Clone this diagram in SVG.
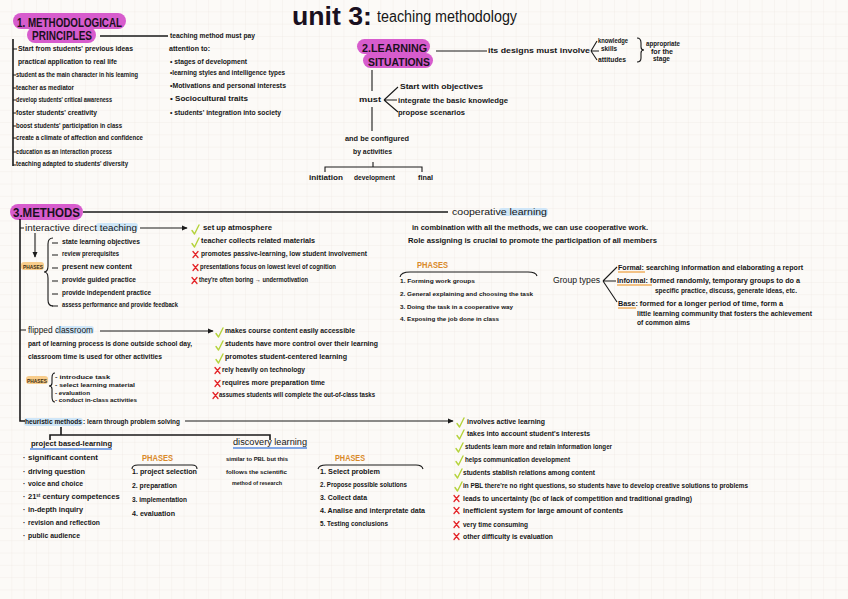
<svg xmlns="http://www.w3.org/2000/svg" width="848" height="599" viewBox="0 0 848 599">
<style>
.t{font-family:"Liberation Sans",Arial,sans-serif;font-size:7px;font-weight:bold;fill:#161616}
.s{font-size:6px}
.ph{font-family:"Liberation Sans",Arial,sans-serif;font-size:9px;font-weight:bold;fill:#d98a2a}
.phs{font-family:"Liberation Sans",Arial,sans-serif;font-size:6px;font-weight:bold;fill:#3a2a10}
.hd{font-family:"Liberation Sans",Arial,sans-serif;font-weight:bold;fill:#1a1020}
.ln{stroke:#1a1a1a;stroke-width:1.1;fill:none}
.lt{stroke:#1a1a1a;stroke-width:1.6;fill:none}
.pill{fill:#d75ccd}
.hb{fill:#cfe6f8}
.ho{fill:#f8cd8c}
.ub{stroke:#5a8de0;stroke-width:1.6;fill:none}
.uo{stroke:#f0b060;stroke-width:1.4;fill:none}
.ok{stroke:#b5d33c;stroke-width:1.4;fill:none;stroke-linecap:round;stroke-linejoin:round}
.no{stroke:#e4262a;stroke-width:1.3;fill:none;stroke-linecap:round}
</style>
<defs>
<pattern id="grid" width="12.3" height="12.3" patternUnits="userSpaceOnUse"><path d="M12.3 0V12.3M0 12.3H12.3" stroke="#ebe5e0" stroke-width="0.6" fill="none"/></pattern>
<marker id="ah" viewBox="0 0 8 8" refX="7" refY="4" markerWidth="6" markerHeight="6" orient="auto" markerUnits="userSpaceOnUse"><path d="M0,0.5L8,4L0,7.5z" fill="#1a1a1a"/></marker>
<path id="ck" d="M0,1.5 L2.5,5 L7,-4" class="ok"/>
<path id="cx" d="M0,-3.5 L5,2.5 M5,-3.5 L0,2.5" class="no"/>
</defs>
<rect width="848" height="599" fill="#fcfaf7"/>
<rect width="848" height="599" fill="url(#grid)"/>

<g id="title">
<text class="hd" x="292" y="25" font-size="25" textLength="80" lengthAdjust="spacingAndGlyphs">unit 3:</text>
<text class="t" x="377" y="22" style="font-size:16px;font-weight:normal" textLength="140" lengthAdjust="spacingAndGlyphs">teaching methodology</text>
</g>

<g id="methodological-principles">
<rect class="pill" x="13" y="13" width="113" height="16" rx="8"/>
<rect class="pill" x="27" y="27" width="69" height="16" rx="8"/>
<text class="hd" x="17" y="27" font-size="12" textLength="105" lengthAdjust="spacingAndGlyphs">1. METHODOLOGICAL</text>
<text class="hd" x="32" y="40" font-size="12" textLength="60" lengthAdjust="spacingAndGlyphs">PRINCIPLES</text>
</g>

<g id="principles-list">
<text class="t" x="18" y="51" textLength="115" lengthAdjust="spacingAndGlyphs">Start from students' previous ideas</text>
<text class="t" x="18" y="64" textLength="99" lengthAdjust="spacingAndGlyphs">practical application to real life</text>
<text class="t" x="16" y="77" textLength="122" lengthAdjust="spacingAndGlyphs">student as the main character in his learning</text>
<text class="t" x="16" y="90" textLength="58" lengthAdjust="spacingAndGlyphs">teacher as mediator</text>
<text class="t" x="16" y="102" textLength="96" lengthAdjust="spacingAndGlyphs">develop students' critical awareness</text>
<text class="t" x="16" y="115" textLength="81" lengthAdjust="spacingAndGlyphs">foster students' creativity</text>
<text class="t" x="16" y="128" textLength="106" lengthAdjust="spacingAndGlyphs">boost students' participation in class</text>
<text class="t" x="16" y="140" textLength="127" lengthAdjust="spacingAndGlyphs">create a climate of affection and confidence</text>
<text class="t" x="16" y="154" textLength="96" lengthAdjust="spacingAndGlyphs">education as an interaction process</text>
<text class="t" x="16" y="166" textLength="112" lengthAdjust="spacingAndGlyphs">teaching adapted to students' diversity</text>
</g>

<g id="attention-list">
<text class="t" x="170" y="38" textLength="85" lengthAdjust="spacingAndGlyphs">teaching method must pay</text>
<text class="t" x="169" y="51" textLength="41" lengthAdjust="spacingAndGlyphs">attention to:</text>
<text class="t" x="170" y="64" textLength="77" lengthAdjust="spacingAndGlyphs">• stages of development</text>
<text class="t" x="170" y="75" textLength="115" lengthAdjust="spacingAndGlyphs">•learning styles and intelligence types</text>
<text class="t" x="170" y="88" textLength="116" lengthAdjust="spacingAndGlyphs">•Motivations and personal interests</text>
<text class="t" x="170" y="101" textLength="78" lengthAdjust="spacingAndGlyphs">• Sociocultural traits</text>
<text class="t" x="170" y="115" textLength="111" lengthAdjust="spacingAndGlyphs">• students' integration into society</text>
</g>

<g id="learning-situations">
<rect class="pill" x="357" y="39" width="73" height="15" rx="7.5"/>
<rect class="pill" x="363" y="53" width="70" height="15" rx="7.5"/>
<text class="hd" x="362" y="52" font-size="11" textLength="65" lengthAdjust="spacingAndGlyphs">2.LEARNING</text>
<text class="hd" x="368" y="66" font-size="11" textLength="62" lengthAdjust="spacingAndGlyphs">SITUATIONS</text>
</g>

<g id="designs">
<text class="t" x="488" y="53" style="font-size:7.5px" textLength="102" lengthAdjust="spacingAndGlyphs">its designs must involve</text>
<text class="t" x="598" y="43" textLength="30" lengthAdjust="spacingAndGlyphs">knowledge</text>
<text class="t" x="601" y="51" textLength="16" lengthAdjust="spacingAndGlyphs">skills</text>
<text class="t" x="598" y="62" textLength="28" lengthAdjust="spacingAndGlyphs">attitudes</text>
<text class="t" x="646" y="46" textLength="34" lengthAdjust="spacingAndGlyphs">appropriate</text>
<text class="t" x="651" y="54" textLength="22" lengthAdjust="spacingAndGlyphs">for the</text>
<text class="t" x="653" y="61" textLength="17" lengthAdjust="spacingAndGlyphs">stage</text>
</g>

<g id="must">
<text class="t" x="359" y="102" style="font-size:8px" textLength="22" lengthAdjust="spacingAndGlyphs">must</text>
<text class="t" x="400" y="89" textLength="83" lengthAdjust="spacingAndGlyphs">Start with objectives</text>
<text class="t" x="398" y="103" textLength="110" lengthAdjust="spacingAndGlyphs">integrate the basic knowledge</text>
<text class="t" x="398" y="115" textLength="67" lengthAdjust="spacingAndGlyphs">propose scenarios</text>
</g>

<g id="activities">
<text class="t" x="345" y="141" textLength="64" lengthAdjust="spacingAndGlyphs">and be configured</text>
<text class="t" x="353" y="154" textLength="39" lengthAdjust="spacingAndGlyphs">by activities</text>
<text class="t" x="309" y="180" textLength="34" lengthAdjust="spacingAndGlyphs">initiation</text>
<text class="t" x="354" y="180" textLength="41" lengthAdjust="spacingAndGlyphs">development</text>
<text class="t" x="418" y="180" textLength="15" lengthAdjust="spacingAndGlyphs">final</text>
</g>

<g id="methods">
<rect class="pill" x="10" y="204" width="73" height="16" rx="8"/>
<text class="hd" x="13" y="217" font-size="13" textLength="67" lengthAdjust="spacingAndGlyphs">3.METHODS</text>
</g>

<g id="interactive-direct-teaching">
<rect class="hb" x="96" y="223" width="42" height="8" rx="3"/>
<text class="t" x="25" y="231" style="font-size:9px;font-weight:normal" textLength="112" lengthAdjust="spacingAndGlyphs">interactive direct teaching</text>
<rect class="ho" x="21" y="262" width="23" height="8" rx="3"/>
<text class="phs" x="23" y="269" textLength="20" lengthAdjust="spacingAndGlyphs">PHASES</text>
<path class="ln" d="M52,243H58M52,255H58M52,268H58M52,281H58M52,294H58M52,306H58"/>
<text class="t" x="62" y="244" textLength="78" lengthAdjust="spacingAndGlyphs">state learning objectives</text>
<text class="t" x="62" y="256" textLength="57" lengthAdjust="spacingAndGlyphs">review prerequisites</text>
<text class="t" x="62" y="269" textLength="70" lengthAdjust="spacingAndGlyphs">present new content</text>
<text class="t" x="62" y="282" textLength="74" lengthAdjust="spacingAndGlyphs">provide guided practice</text>
<text class="t" x="62" y="295" textLength="89" lengthAdjust="spacingAndGlyphs">provide independent practice</text>
<text class="t" x="62" y="307" textLength="116" lengthAdjust="spacingAndGlyphs">assess performance and provide feedback</text>
</g>

<g id="direct-teaching-eval">
<use href="#ck" x="192" y="229"/>
<text class="t" x="203" y="230" style="font-size:7.5px" textLength="69" lengthAdjust="spacingAndGlyphs">set up atmosphere</text>
<use href="#ck" x="192" y="242"/>
<text class="t" x="201" y="243" textLength="114" lengthAdjust="spacingAndGlyphs">teacher collects related materials</text>
<use href="#cx" x="193" y="255"/>
<text class="t" x="201" y="256" style="font-size:7.5px" textLength="166" lengthAdjust="spacingAndGlyphs">promotes passive-learning, low student involvement</text>
<use href="#cx" x="193" y="268"/>
<text class="t" x="200" y="269" textLength="136" lengthAdjust="spacingAndGlyphs">presentations focus on lowest level of cognition</text>
<use href="#cx" x="192" y="281"/>
<text class="t" x="199" y="282" textLength="109" lengthAdjust="spacingAndGlyphs">they're often boring → undermotivation</text>
</g>

<g id="cooperative-learning">
<rect class="hb" x="499" y="208" width="49" height="8" rx="3"/>
<text class="t" x="452" y="215" style="font-size:9px;font-weight:normal" textLength="95" lengthAdjust="spacingAndGlyphs">cooperative learning</text>
<text class="t" x="412" y="230" textLength="236" lengthAdjust="spacingAndGlyphs">in combination with all the methods, we can use cooperative work.</text>
<text class="t" x="408" y="243" textLength="249" lengthAdjust="spacingAndGlyphs">Role assigning is crucial to promote the participation of all members</text>
<text class="ph" x="417" y="268" textLength="31" lengthAdjust="spacingAndGlyphs">PHASES</text>
<path class="ln" d="M400,277 Q401,272 410,272 L528,272 Q536,272 537,276"/>
<text class="t s" x="400" y="283" textLength="75" lengthAdjust="spacingAndGlyphs">1. Forming work groups</text>
<text class="t s" x="400" y="296" textLength="133" lengthAdjust="spacingAndGlyphs">2. General explaining and choosing the task</text>
<text class="t s" x="400" y="309" textLength="113" lengthAdjust="spacingAndGlyphs">3. Doing the task in a cooperative way</text>
<text class="t s" x="400" y="321" textLength="99" lengthAdjust="spacingAndGlyphs">4. Exposing the job done in class</text>
</g>

<g id="group-types">
<text class="t" x="553" y="283" style="font-size:8.5px;font-weight:normal" textLength="47" lengthAdjust="spacingAndGlyphs">Group types</text>
<path class="uo" d="M618,272H645M617,285H652M618,308H636"/>
<text class="t" x="618" y="270" textLength="185" lengthAdjust="spacingAndGlyphs">Formal: searching information and elaborating a report</text>
<text class="t" x="617" y="283" textLength="183" lengthAdjust="spacingAndGlyphs">Informal: formed randomly, temporary groups to do a</text>
<text class="t" x="655" y="293" textLength="142" lengthAdjust="spacingAndGlyphs">specific practice, discuss, generate ideas, etc.</text>
<text class="t" x="618" y="306" textLength="165" lengthAdjust="spacingAndGlyphs">Base: formed for a longer period of time, form a</text>
<text class="t" x="637" y="316" textLength="175" lengthAdjust="spacingAndGlyphs">little learning community that fosters the achievement</text>
<text class="t" x="637" y="325" textLength="53" lengthAdjust="spacingAndGlyphs">of common aims</text>
</g>

<g id="flipped-classroom">
<rect class="hb" x="56" y="326" width="38" height="8" rx="3"/>
<text class="t" x="28" y="333" style="font-size:8.5px;font-weight:normal" textLength="65" lengthAdjust="spacingAndGlyphs">flipped classroom</text>
<text class="t" x="28" y="346" textLength="164" lengthAdjust="spacingAndGlyphs">part of learning process is done outside school day,</text>
<text class="t" x="28" y="359" textLength="134" lengthAdjust="spacingAndGlyphs">classroom time is used for other activities</text>
<rect class="ho" x="26" y="376" width="22" height="8" rx="3"/>
<text class="phs" x="27" y="383" textLength="20" lengthAdjust="spacingAndGlyphs">PHASES</text>
<text class="t s" x="55" y="379" textLength="55" lengthAdjust="spacingAndGlyphs">- introduce task</text>
<text class="t s" x="55" y="387" textLength="80" lengthAdjust="spacingAndGlyphs">- select learning material</text>
<text class="t s" x="55" y="395" textLength="35" lengthAdjust="spacingAndGlyphs">- evaluation</text>
<text class="t s" x="55" y="402" textLength="82" lengthAdjust="spacingAndGlyphs">- conduct in-class activities</text>
</g>

<g id="flipped-eval">
<use href="#ck" x="216" y="332"/>
<text class="t" x="225" y="333" textLength="130" lengthAdjust="spacingAndGlyphs">makes course content easily accessible</text>
<use href="#ck" x="216" y="345"/>
<text class="t" x="225" y="346" textLength="153" lengthAdjust="spacingAndGlyphs">students have more control over their learning</text>
<use href="#ck" x="216" y="358"/>
<text class="t" x="225" y="359" textLength="122" lengthAdjust="spacingAndGlyphs">promotes student-centered learning</text>
<use href="#cx" x="215" y="371"/>
<text class="t" x="222" y="372" textLength="83" lengthAdjust="spacingAndGlyphs">rely heavily on technology</text>
<use href="#cx" x="215" y="384"/>
<text class="t" x="222" y="385" textLength="103" lengthAdjust="spacingAndGlyphs">requires more preparation time</text>
<use href="#cx" x="213" y="396"/>
<text class="t" x="219" y="397" textLength="156" lengthAdjust="spacingAndGlyphs">assumes students will complete the out-of-class tasks</text>
</g>

<g id="heuristic-methods">
<rect class="hb" x="24" y="418" width="59" height="8" rx="3"/>
<text class="t" x="25" y="424" textLength="57" lengthAdjust="spacingAndGlyphs">heuristic methods</text>
<text class="t" x="83" y="424" textLength="97" lengthAdjust="spacingAndGlyphs">: learn through problem solving</text>
</g>

<g id="project-based-learning">
<text class="t" x="31" y="446" style="font-size:8px" textLength="81" lengthAdjust="spacingAndGlyphs">project based-learning</text>
<path class="ub" d="M30,449H112"/>
<text class="t" x="23" y="460">·</text><text class="t" x="28" y="460" style="font-size:7.5px" textLength="70" lengthAdjust="spacingAndGlyphs">significant content</text>
<text class="t" x="23" y="474">·</text><text class="t" x="28" y="474" style="font-size:7.5px" textLength="57" lengthAdjust="spacingAndGlyphs">driving question</text>
<text class="t" x="23" y="486">·</text><text class="t" x="28" y="486" style="font-size:7.5px" textLength="55" lengthAdjust="spacingAndGlyphs">voice and choice</text>
<text class="t" x="23" y="499">·</text><text class="t" x="28" y="499" style="font-size:7.5px">21<tspan font-size="4.5" dy="-2.5">st</tspan><tspan dy="2.5"> century competences</tspan></text>
<text class="t" x="23" y="512">·</text><text class="t" x="28" y="512" style="font-size:7.5px" textLength="55" lengthAdjust="spacingAndGlyphs">in-depth inquiry</text>
<text class="t" x="23" y="525">·</text><text class="t" x="28" y="525" style="font-size:7.5px" textLength="72" lengthAdjust="spacingAndGlyphs">revision and reflection</text>
<text class="t" x="23" y="538">·</text><text class="t" x="28" y="538" style="font-size:7.5px" textLength="52" lengthAdjust="spacingAndGlyphs">public audience</text>
</g>

<g id="pbl-phases">
<text class="ph" x="142" y="461" textLength="31" lengthAdjust="spacingAndGlyphs">PHASES</text>
<path class="ln" d="M132,469 Q132,465 138,465 L192,465 Q197,465 197,469"/>
<text class="t" x="132" y="474" textLength="65" lengthAdjust="spacingAndGlyphs">1. project selection</text>
<text class="t" x="132" y="488" textLength="45" lengthAdjust="spacingAndGlyphs">2. preparation</text>
<text class="t" x="132" y="502" textLength="55" lengthAdjust="spacingAndGlyphs">3. implementation</text>
<text class="t" x="132" y="516" textLength="43" lengthAdjust="spacingAndGlyphs">4. evaluation</text>
</g>

<g id="discovery-learning">
<text class="t" x="233" y="445" style="font-size:8.5px;font-weight:normal" textLength="74" lengthAdjust="spacingAndGlyphs">discovery learning</text>
<path class="ub" d="M233,448H307"/>
<text class="t s" x="226" y="461" textLength="62" lengthAdjust="spacingAndGlyphs">similar to PBL but this</text>
<text class="t s" x="226" y="474" textLength="61" lengthAdjust="spacingAndGlyphs">follows the scientific</text>
<text class="t s" x="232" y="485" textLength="50" lengthAdjust="spacingAndGlyphs">method of research</text>
</g>

<g id="discovery-phases">
<text class="ph" x="335" y="461" textLength="30" lengthAdjust="spacingAndGlyphs">PHASES</text>
<path class="ln" d="M318,469 Q319,465 326,465 L416,465 Q422,465 423,469"/>
<text class="t" x="320" y="474" textLength="60" lengthAdjust="spacingAndGlyphs">1. Select problem</text>
<text class="t" x="320" y="487" textLength="87" lengthAdjust="spacingAndGlyphs">2. Propose possible solutions</text>
<text class="t" x="320" y="500" textLength="47" lengthAdjust="spacingAndGlyphs">3. Collect data</text>
<text class="t" x="320" y="513" textLength="105" lengthAdjust="spacingAndGlyphs">4. Analise and interpretate data</text>
<text class="t" x="320" y="526" textLength="68" lengthAdjust="spacingAndGlyphs">5. Testing conclusions</text>
</g>

<g id="heuristic-eval">
<use href="#ck" x="457" y="422"/>
<text class="t" x="467" y="424" textLength="78" lengthAdjust="spacingAndGlyphs">involves active learning</text>
<use href="#ck" x="457" y="434"/>
<text class="t" x="467" y="436" textLength="123" lengthAdjust="spacingAndGlyphs">takes into account student's interests</text>
<use href="#ck" x="456" y="447"/>
<text class="t" x="465" y="449" textLength="147" lengthAdjust="spacingAndGlyphs">students learn more and retain information longer</text>
<use href="#ck" x="456" y="460"/>
<text class="t" x="465" y="462" textLength="105" lengthAdjust="spacingAndGlyphs">helps communication development</text>
<use href="#ck" x="455" y="473"/>
<text class="t" x="463" y="475" textLength="132" lengthAdjust="spacingAndGlyphs">students stablish relations among content</text>
<use href="#ck" x="455" y="486"/>
<text class="t" x="463" y="488" textLength="285" lengthAdjust="spacingAndGlyphs">in PBL there're no right questions, so students have to develop creative solutions to problems</text>
<use href="#cx" x="454" y="499"/>
<text class="t" x="463" y="501" textLength="229" lengthAdjust="spacingAndGlyphs">leads to uncertainty (bc of lack of competition and traditional grading)</text>
<use href="#cx" x="454" y="511"/>
<text class="t" x="463" y="513" textLength="160" lengthAdjust="spacingAndGlyphs">inefficient system for large amount of contents</text>
<use href="#cx" x="454" y="525"/>
<text class="t" x="463" y="527" textLength="65" lengthAdjust="spacingAndGlyphs">very time consuming</text>
<use href="#cx" x="454" y="537"/>
<text class="t" x="463" y="539" textLength="90" lengthAdjust="spacingAndGlyphs">other difficulty is evaluation</text>
</g>

<g id="connectors">
<path class="lt" d="M100,36H168"/>
<path class="lt" d="M13,39V166"/>
<path class="ln" d="M13,49H17M13,75H16M13,88H16M13,100H16M13,113H16M13,126H16M13,138H16M13,152H16M13,165H16"/>
<path class="ln" d="M436,51H487"/>
<path class="ln" d="M591,51L597,41M591,51H599M591,51L597,60"/>
<path class="ln" d="M637,38Q641,38 641,43L641,47Q641,50 644,50Q641,50 641,53L641,58Q641,62 637,62"/>
<path class="ln" d="M372,70V91M384,100L398,87M384,100H397M384,100L398,112M372,107V131"/>
<path class="ln" d="M325,172V167H422V172M373,162V167"/>
<path class="lt" d="M83,212H448"/>
<path class="lt" d="M20,219V421H25"/>
<path class="ln" d="M20,228H24M20,330H26"/>
<path class="ln" d="M140,228H187" marker-end="url(#ah)"/>
<path class="ln" d="M35,233V257" marker-end="url(#ah)"/>
<path class="ln" d="M53,238Q48,238 48,244L48,266Q48,272 44,272Q48,272 48,278L48,300Q48,306 53,306"/>
<path class="ln" d="M100,331H213" marker-end="url(#ah)"/>
<path class="ln" d="M55,373Q52,373 52,378L52,383Q52,386 49,386Q52,386 52,389L52,397Q52,402 55,402"/>
<path class="ln" d="M185,421H453" marker-end="url(#ah)"/>
<path class="lt" d="M61,427V435M50,440V435H270V440"/>
<path class="ln" d="M603,281L617,267M603,281H616M603,281L617,302"/>
</g>
</svg>
